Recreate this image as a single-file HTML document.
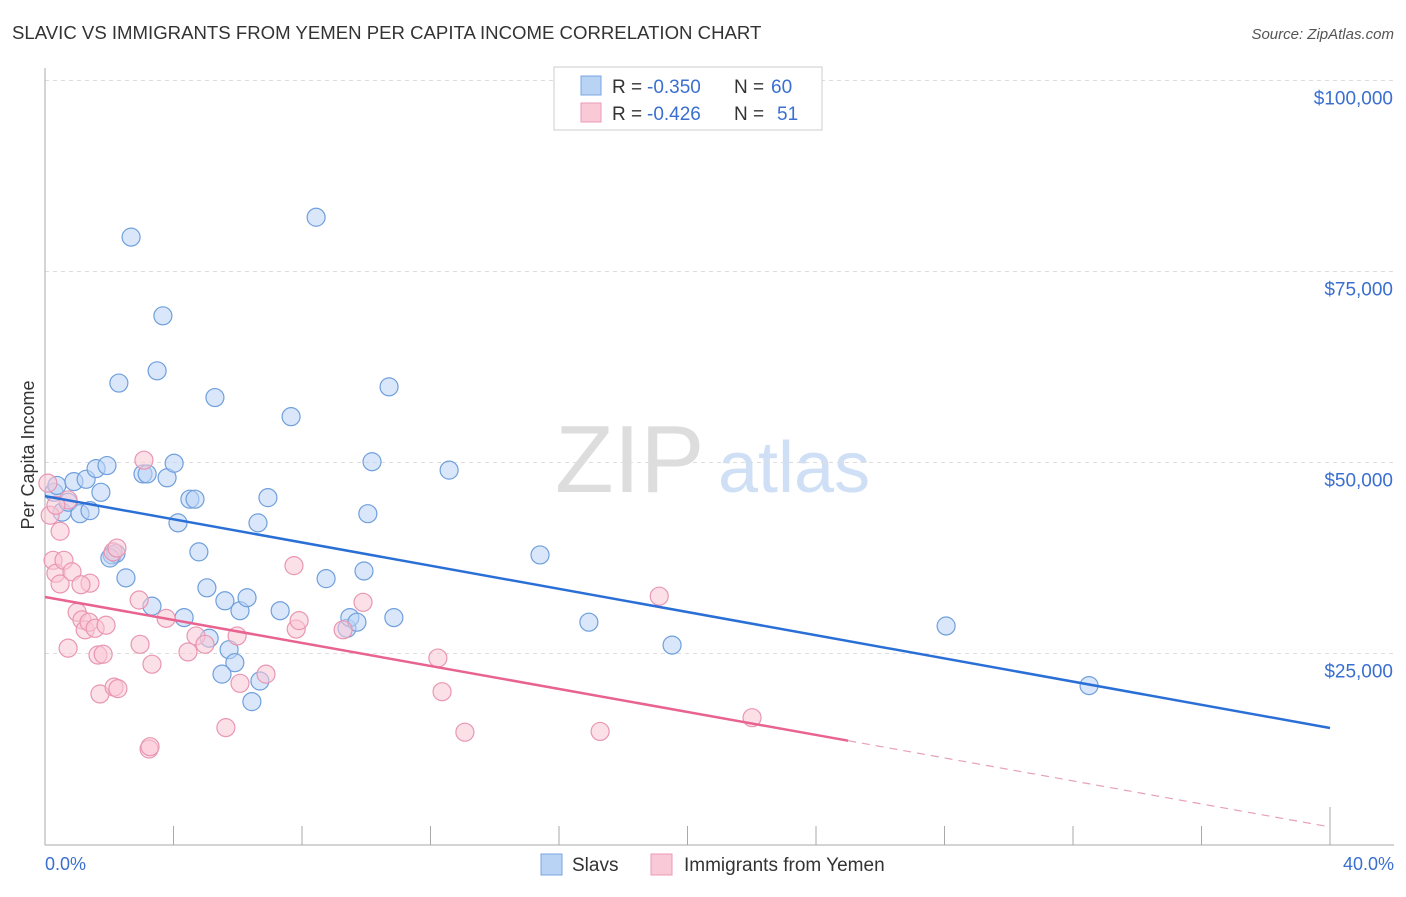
<!DOCTYPE html>
<html><head><meta charset="utf-8"><style>
body{margin:0;background:#fff;font-family:"Liberation Sans",sans-serif;}
svg text{font-family:"Liberation Sans",sans-serif;}
</style></head><body>
<svg width="1406" height="892" xmlns="http://www.w3.org/2000/svg">
<text x="12" y="39" font-size="18.6" fill="#333">SLAVIC VS IMMIGRANTS FROM YEMEN PER CAPITA INCOME CORRELATION CHART</text>
<text x="1394" y="39" font-size="15" fill="#555" text-anchor="end" font-style="italic">Source: ZipAtlas.com</text>
<text x="555" y="492" font-size="96" fill="#ddd" font-family="Liberation Serif">ZIP</text>
<text x="718" y="492" font-size="72" fill="#cfdff5">atlas</text>
<g id="grid"></g>
<g id="axes"></g>
<g id="marks"></g>
<text x="34" y="455" font-size="18" fill="#333" text-anchor="middle" transform="rotate(-90 34 455)">Per Capita Income</text>
<text x="45" y="870" font-size="18" fill="#3a6fd0">0.0%</text>
<text x="1394" y="870" font-size="18" fill="#3a6fd0" text-anchor="end">40.0%</text>
<g>
<rect x="554" y="67" width="268" height="63" fill="#fff" stroke="#ccc"/>
<rect x="581" y="76" width="20" height="19" fill="#b9d3f5" stroke="#7aa6e0"/>
<rect x="581" y="103" width="20" height="19" fill="#f9c9d8" stroke="#ec9ab5"/>
<text x="612" y="93" font-size="19" fill="#333">R =</text>
<text x="647" y="93" font-size="19" fill="#3a6fd0">-0.350</text>
<text x="734" y="93" font-size="19" fill="#333">N =</text>
<text x="771" y="93" font-size="19" fill="#3a6fd0">60</text>
<text x="612" y="120" font-size="19" fill="#333">R =</text>
<text x="647" y="120" font-size="19" fill="#3a6fd0">-0.426</text>
<text x="734" y="120" font-size="19" fill="#333">N =</text>
<text x="777" y="120" font-size="19" fill="#3a6fd0">51</text>
</g>
<g>
<rect x="541" y="854" width="21" height="21" fill="#b9d3f5" stroke="#7aa6e0"/>
<text x="572" y="871" font-size="19" fill="#333">Slavs</text>
<rect x="651" y="854" width="21" height="21" fill="#f9c9d8" stroke="#ec9ab5"/>
<text x="684" y="871" font-size="19" fill="#333">Immigrants from Yemen</text>
</g>
</svg>
<script>
const yTicks=[25000,50000,75000,100000];
const yTickLabels=["$25,000","$50,000","$75,000","$100,000"];
const slavX=[0.28,0.37,0.53,0.72,0.90,1.09,1.28,1.40,1.59,1.74,1.93,2.68,2.30,2.09,2.21,2.52,3.05,3.18,3.49,3.67,3.80,4.02,4.14,4.51,4.67,4.79,5.04,5.29,5.11,5.60,5.73,5.91,5.51,6.07,6.29,6.44,6.69,6.63,6.94,7.32,7.66,8.44,8.75,9.40,9.49,9.71,9.93,10.05,10.18,10.71,10.86,12.58,15.41,16.93,19.52,28.05,32.50,4.33,3.33,2.02];
const slavY=[46.1,47.0,43.5,44.8,47.5,43.3,47.8,43.7,49.2,46.1,49.6,79.5,60.4,37.9,38.1,34.9,48.5,48.5,62.0,69.2,48.0,49.9,42.1,45.2,45.2,38.3,33.6,58.5,27.0,31.9,25.5,23.8,22.3,30.6,32.3,18.7,21.4,42.1,45.4,30.6,56.0,82.1,34.8,28.3,29.7,29.1,35.8,43.3,50.1,59.9,29.7,49.0,37.9,29.1,26.1,28.6,20.8,29.7,31.2,37.5];
const yemX=[0.09,0.16,0.25,0.34,0.47,0.47,0.59,0.72,0.72,0.84,1.00,1.15,1.25,1.37,1.40,1.56,1.65,1.71,1.81,1.90,2.12,2.24,2.15,2.27,2.93,2.96,3.08,3.24,3.33,3.77,4.45,4.70,4.98,5.63,5.98,6.07,6.88,7.75,7.82,7.91,9.28,9.90,12.23,12.36,13.07,17.28,19.12,22.01,0.34,1.12,3.27];
const yemY=[47.3,43.1,37.2,35.5,41.0,34.1,37.2,45.1,25.7,35.7,30.4,29.4,28.1,29.1,34.2,28.3,24.8,19.7,24.9,28.7,38.3,38.8,20.6,20.4,32.0,26.2,50.3,12.5,23.6,29.6,25.2,27.3,26.2,15.3,27.3,21.1,22.3,36.5,28.2,29.3,28.1,31.7,24.4,20.0,14.7,14.8,32.5,16.6,44.4,34.0,12.8];
const slavTrend=[45.6,15.25];
const yemTrend=[32.4,2.3];
const yemSolidEnd=25.0;
const NS="http://www.w3.org/2000/svg";
const X=p=>45+p/40*1285;
const Y=k=>844.5-k/25*191;
function mk(t,a,parent){const e=document.createElementNS(NS,t);for(const k in a)e.setAttribute(k,a[k]);document.getElementById(parent).appendChild(e);return e;}
yTicks.forEach((v,i)=>{
 const l=mk('line',{x1:45,x2:1394,y1:Y(v/1000),y2:Y(v/1000),stroke:'#ddd','stroke-dasharray':'4,4'},'grid');
 
 
 const t=mk('text',{x:1393,y:Y(v/1000)+24,'font-size':19,fill:'#3a6fd0','text-anchor':'end'},'grid');
 t.textContent=yTickLabels[i];
 
 
});
let ax=mk('line',{x1:45,x2:45,y1:68,y2:845,stroke:'#aaa'},'axes');


ax=mk('line',{x1:45,x2:1394,y1:845,y2:845,stroke:'#aaa'},'axes');


for(let i=1;i<=10;i++){
 const tk=mk('line',{x1:X(i*4),x2:X(i*4),y1:i==10?807:826,y2:845,stroke:'#aaa'},'axes');
 
 
}
function dots(xs,ys,fill,stroke,name){
 xs.forEach((x,i)=>{
  const c=mk('circle',{cx:X(x),cy:Y(ys[i]),r:9,fill:fill,'fill-opacity':0.55,stroke:stroke,'stroke-width':1.2},'marks');
  
  
 });
}
dots(slavX,slavY,'#bcd4f6','#6f9fdc','slavs-point');
dots(yemX,yemY,'#f9c6d6','#e996b2','yemen-point');
let tl=mk('line',{x1:X(0),y1:Y(slavTrend[0]),x2:X(40),y2:Y(slavTrend[1]),stroke:'#2a6fd6','stroke-width':2.5},'marks');


const ym=yemTrend[0]+(yemTrend[1]-yemTrend[0])*yemSolidEnd/40;
tl=mk('line',{x1:X(0),y1:Y(yemTrend[0]),x2:X(yemSolidEnd),y2:Y(ym),stroke:'#e8638f','stroke-width':2.5},'marks');


tl=mk('line',{x1:X(yemSolidEnd),y1:Y(ym),x2:X(40),y2:Y(yemTrend[1]),stroke:'#e8a0b8','stroke-width':1.2,'stroke-dasharray':'8,6'},'marks');


</script>
</body></html>
